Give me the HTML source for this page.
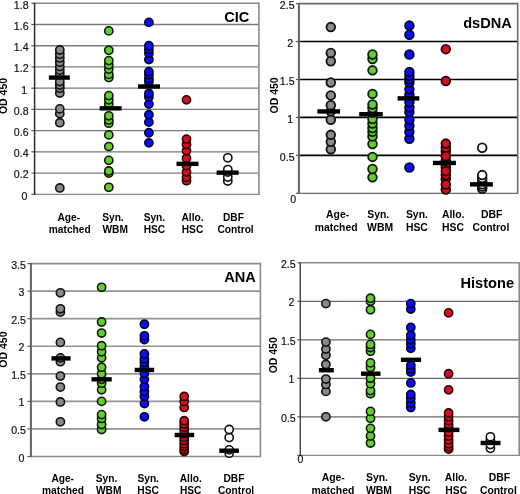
<!DOCTYPE html>
<html><head><meta charset="utf-8"><title>Antibody ELISA</title>
<style>
html,body{margin:0;padding:0;background:#fff;}
body{width:520px;height:494px;overflow:hidden;}
svg{display:block;font-family:"Liberation Sans",sans-serif;will-change:transform;}
.tl{font-size:10.6px;text-anchor:end;fill:#111;stroke:#111;stroke-width:0.18px;}
.ti{font-weight:bold;text-anchor:end;fill:#000;}
.od{font-size:10.5px;font-weight:bold;text-anchor:middle;fill:#000;}
.cl{font-weight:bold;text-anchor:middle;fill:#000;}
</style></head>
<body>
<svg width="520" height="494" viewBox="0 0 520 494">
<rect width="520" height="494" fill="#fff"/>
<g><line x1="34.4" y1="173.08" x2="258.9" y2="173.08" stroke="#7a7a7a" stroke-width="1.3"/>
<line x1="34.4" y1="151.86" x2="258.9" y2="151.86" stroke="#7a7a7a" stroke-width="1.3"/>
<line x1="34.4" y1="130.63" x2="258.9" y2="130.63" stroke="#7a7a7a" stroke-width="1.3"/>
<line x1="34.4" y1="109.41" x2="258.9" y2="109.41" stroke="#7a7a7a" stroke-width="1.3"/>
<line x1="34.4" y1="88.19" x2="258.9" y2="88.19" stroke="#7a7a7a" stroke-width="1.3"/>
<line x1="34.4" y1="66.97" x2="258.9" y2="66.97" stroke="#7a7a7a" stroke-width="1.3"/>
<line x1="34.4" y1="45.74" x2="258.9" y2="45.74" stroke="#7a7a7a" stroke-width="1.3"/>
<line x1="34.4" y1="24.52" x2="258.9" y2="24.52" stroke="#7a7a7a" stroke-width="1.3"/>
<line x1="34.4" y1="3.3" x2="258.9" y2="3.3" stroke="#8a8a8a" stroke-width="1.6"/>
<line x1="34.4" y1="194.3" x2="258.9" y2="194.3" stroke="#8a8a8a" stroke-width="1.3"/>
<line x1="258.9" y1="2.5" x2="258.9" y2="194.9" stroke="#8a8a8a" stroke-width="1.6"/>
<line x1="31.4" y1="194.3" x2="34.4" y2="194.3" stroke="#555" stroke-width="1.2"/>
<line x1="31.4" y1="173.08" x2="34.4" y2="173.08" stroke="#555" stroke-width="1.2"/>
<line x1="31.4" y1="151.86" x2="34.4" y2="151.86" stroke="#555" stroke-width="1.2"/>
<line x1="31.4" y1="130.63" x2="34.4" y2="130.63" stroke="#555" stroke-width="1.2"/>
<line x1="31.4" y1="109.41" x2="34.4" y2="109.41" stroke="#555" stroke-width="1.2"/>
<line x1="31.4" y1="88.19" x2="34.4" y2="88.19" stroke="#555" stroke-width="1.2"/>
<line x1="31.4" y1="66.97" x2="34.4" y2="66.97" stroke="#555" stroke-width="1.2"/>
<line x1="31.4" y1="45.74" x2="34.4" y2="45.74" stroke="#555" stroke-width="1.2"/>
<line x1="31.4" y1="24.52" x2="34.4" y2="24.52" stroke="#555" stroke-width="1.2"/>
<line x1="31.4" y1="3.3" x2="34.4" y2="3.3" stroke="#555" stroke-width="1.2"/>
<line x1="34.6" y1="2.7" x2="34.6" y2="194.9" stroke="#2e2e2e" stroke-width="1.5"/>
<text x="27.4" y="200.1" class="tl">0</text>
<text x="28.6" y="178.48" class="tl">0.2</text>
<text x="28.6" y="157.26" class="tl">0.4</text>
<text x="28.6" y="136.03" class="tl">0.6</text>
<text x="28.6" y="114.81" class="tl">0.8</text>
<text x="27.2" y="93.59" class="tl">1</text>
<text x="28.6" y="72.37" class="tl">1.2</text>
<text x="28.6" y="51.14" class="tl">1.4</text>
<text x="28.6" y="29.92" class="tl">1.6</text>
<text x="28.6" y="8.7" class="tl">1.8</text>
<text x="249.3" y="21.9" class="ti" style="font-size:14.6px">CIC</text>
<text transform="translate(6.9 96) rotate(-90) scale(1.0 0.97)" class="od">OD 450</text>
<text x="68.85" y="221.1" class="cl" style="font-size:10.2px">Age-</text>
<text x="69.75" y="233.1" class="cl" style="font-size:10.2px">matched</text>
<text x="112.95" y="221.1" class="cl" style="font-size:10.2px">Syn.</text>
<text x="115.2" y="233.1" class="cl" style="font-size:10.2px">WBM</text>
<text x="154.4" y="221.1" class="cl" style="font-size:10.2px">Syn.</text>
<text x="154.4" y="233.1" class="cl" style="font-size:10.2px">HSC</text>
<text x="192.5" y="221.1" class="cl" style="font-size:10.2px">Allo.</text>
<text x="192.5" y="233.1" class="cl" style="font-size:10.2px">HSC</text>
<text x="233.4" y="221.1" class="cl" style="font-size:10.2px">DBF</text>
<text x="235.6" y="233.1" class="cl" style="font-size:10.2px">Control</text>
<circle cx="59.8" cy="187.93" r="4.1" fill="#8a8a8a" stroke="#111" stroke-width="1.6"/>
<circle cx="59.8" cy="122.68" r="4.1" fill="#8a8a8a" stroke="#111" stroke-width="1.6"/>
<circle cx="59.8" cy="113.66" r="4.1" fill="#8a8a8a" stroke="#111" stroke-width="1.6"/>
<circle cx="59.8" cy="108.88" r="4.1" fill="#8a8a8a" stroke="#111" stroke-width="1.6"/>
<circle cx="59.8" cy="93.07" r="4.1" fill="#8a8a8a" stroke="#111" stroke-width="1.6"/>
<circle cx="59.8" cy="88.19" r="4.1" fill="#8a8a8a" stroke="#111" stroke-width="1.6"/>
<circle cx="59.8" cy="85.01" r="4.1" fill="#8a8a8a" stroke="#111" stroke-width="1.6"/>
<circle cx="59.8" cy="81.5" r="4.1" fill="#8a8a8a" stroke="#111" stroke-width="1.6"/>
<circle cx="59.8" cy="73.86" r="4.1" fill="#8a8a8a" stroke="#111" stroke-width="1.6"/>
<circle cx="59.8" cy="70.15" r="4.1" fill="#8a8a8a" stroke="#111" stroke-width="1.6"/>
<circle cx="59.8" cy="66.44" r="4.1" fill="#8a8a8a" stroke="#111" stroke-width="1.6"/>
<circle cx="59.8" cy="62.19" r="4.1" fill="#8a8a8a" stroke="#111" stroke-width="1.6"/>
<circle cx="59.8" cy="57.95" r="4.1" fill="#8a8a8a" stroke="#111" stroke-width="1.6"/>
<circle cx="59.8" cy="54.23" r="4.1" fill="#8a8a8a" stroke="#111" stroke-width="1.6"/>
<circle cx="59.8" cy="49.99" r="4.1" fill="#8a8a8a" stroke="#111" stroke-width="1.6"/>
<rect x="48.85" y="75.38" width="21" height="4.4" fill="#000"/>
<circle cx="108.8" cy="187.3" r="4.1" fill="#66cc33" stroke="#0d1a05" stroke-width="1.6"/>
<circle cx="108.8" cy="173.08" r="4.1" fill="#66cc33" stroke="#0d1a05" stroke-width="1.6"/>
<circle cx="108.8" cy="170.96" r="4.1" fill="#66cc33" stroke="#0d1a05" stroke-width="1.6"/>
<circle cx="108.8" cy="160.34" r="4.1" fill="#66cc33" stroke="#0d1a05" stroke-width="1.6"/>
<circle cx="108.8" cy="146.55" r="4.1" fill="#66cc33" stroke="#0d1a05" stroke-width="1.6"/>
<circle cx="108.8" cy="134.88" r="4.1" fill="#66cc33" stroke="#0d1a05" stroke-width="1.6"/>
<circle cx="108.8" cy="123.21" r="4.1" fill="#66cc33" stroke="#0d1a05" stroke-width="1.6"/>
<circle cx="108.8" cy="120.02" r="4.1" fill="#66cc33" stroke="#0d1a05" stroke-width="1.6"/>
<circle cx="108.8" cy="115.78" r="4.1" fill="#66cc33" stroke="#0d1a05" stroke-width="1.6"/>
<circle cx="108.8" cy="104.11" r="4.1" fill="#66cc33" stroke="#0d1a05" stroke-width="1.6"/>
<circle cx="108.8" cy="99.86" r="4.1" fill="#66cc33" stroke="#0d1a05" stroke-width="1.6"/>
<circle cx="108.8" cy="95.62" r="4.1" fill="#66cc33" stroke="#0d1a05" stroke-width="1.6"/>
<circle cx="108.8" cy="77.58" r="4.1" fill="#66cc33" stroke="#0d1a05" stroke-width="1.6"/>
<circle cx="108.8" cy="74.39" r="4.1" fill="#66cc33" stroke="#0d1a05" stroke-width="1.6"/>
<circle cx="108.8" cy="69.09" r="4.1" fill="#66cc33" stroke="#0d1a05" stroke-width="1.6"/>
<circle cx="108.8" cy="64.84" r="4.1" fill="#66cc33" stroke="#0d1a05" stroke-width="1.6"/>
<circle cx="108.8" cy="60.6" r="4.1" fill="#66cc33" stroke="#0d1a05" stroke-width="1.6"/>
<circle cx="108.8" cy="50.31" r="4.1" fill="#66cc33" stroke="#0d1a05" stroke-width="1.6"/>
<circle cx="108.8" cy="30.89" r="4.1" fill="#66cc33" stroke="#0d1a05" stroke-width="1.6"/>
<rect x="99.65" y="106.15" width="22" height="4.4" fill="#000"/>
<circle cx="148.9" cy="142.84" r="4.1" fill="#0c0cf5" stroke="#05052a" stroke-width="1.6"/>
<circle cx="148.9" cy="132.76" r="4.1" fill="#0c0cf5" stroke="#05052a" stroke-width="1.6"/>
<circle cx="148.9" cy="122.14" r="4.1" fill="#0c0cf5" stroke="#05052a" stroke-width="1.6"/>
<circle cx="148.9" cy="114.72" r="4.1" fill="#0c0cf5" stroke="#05052a" stroke-width="1.6"/>
<circle cx="148.9" cy="104.11" r="4.1" fill="#0c0cf5" stroke="#05052a" stroke-width="1.6"/>
<circle cx="148.9" cy="97" r="4.1" fill="#0c0cf5" stroke="#05052a" stroke-width="1.6"/>
<circle cx="148.9" cy="93.49" r="4.1" fill="#0c0cf5" stroke="#05052a" stroke-width="1.6"/>
<circle cx="148.9" cy="81.82" r="4.1" fill="#0c0cf5" stroke="#05052a" stroke-width="1.6"/>
<circle cx="148.9" cy="78.64" r="4.1" fill="#0c0cf5" stroke="#05052a" stroke-width="1.6"/>
<circle cx="148.9" cy="74.82" r="4.1" fill="#0c0cf5" stroke="#05052a" stroke-width="1.6"/>
<circle cx="148.9" cy="71.74" r="4.1" fill="#0c0cf5" stroke="#05052a" stroke-width="1.6"/>
<circle cx="148.9" cy="59.54" r="4.1" fill="#0c0cf5" stroke="#05052a" stroke-width="1.6"/>
<circle cx="148.9" cy="53.17" r="4.1" fill="#0c0cf5" stroke="#05052a" stroke-width="1.6"/>
<circle cx="148.9" cy="49.46" r="4.1" fill="#0c0cf5" stroke="#05052a" stroke-width="1.6"/>
<circle cx="148.9" cy="45.74" r="4.1" fill="#0c0cf5" stroke="#05052a" stroke-width="1.6"/>
<circle cx="148.9" cy="22.4" r="4.1" fill="#0c0cf5" stroke="#05052a" stroke-width="1.6"/>
<rect x="138" y="84.29" width="22" height="4.4" fill="#000"/>
<circle cx="186.5" cy="180.72" r="4.1" fill="#d41020" stroke="#2a0505" stroke-width="1.6"/>
<circle cx="186.5" cy="177.32" r="4.1" fill="#d41020" stroke="#2a0505" stroke-width="1.6"/>
<circle cx="186.5" cy="172.02" r="4.1" fill="#d41020" stroke="#2a0505" stroke-width="1.6"/>
<circle cx="186.5" cy="165.65" r="4.1" fill="#d41020" stroke="#2a0505" stroke-width="1.6"/>
<circle cx="186.5" cy="158.22" r="4.1" fill="#d41020" stroke="#2a0505" stroke-width="1.6"/>
<circle cx="186.5" cy="150.79" r="4.1" fill="#d41020" stroke="#2a0505" stroke-width="1.6"/>
<circle cx="186.5" cy="144.43" r="4.1" fill="#d41020" stroke="#2a0505" stroke-width="1.6"/>
<circle cx="186.5" cy="139.12" r="4.1" fill="#d41020" stroke="#2a0505" stroke-width="1.6"/>
<circle cx="186.5" cy="99.86" r="4.1" fill="#d41020" stroke="#2a0505" stroke-width="1.6"/>
<rect x="176.5" y="161.65" width="22" height="4.4" fill="#000"/>
<circle cx="227.8" cy="181.04" r="4.1" fill="#ffffff" stroke="#111" stroke-width="1.6"/>
<circle cx="227.8" cy="177" r="4.1" fill="#ffffff" stroke="#111" stroke-width="1.6"/>
<circle cx="227.8" cy="172.02" r="4.1" fill="#ffffff" stroke="#111" stroke-width="1.6"/>
<circle cx="227.8" cy="169.58" r="4.1" fill="#ffffff" stroke="#111" stroke-width="1.6"/>
<circle cx="227.8" cy="157.8" r="4.1" fill="#ffffff" stroke="#111" stroke-width="1.6"/>
<rect x="216.6" y="170.45" width="22" height="4.4" fill="#000"/></g>
<g><line x1="298.9" y1="155.36" x2="517.7" y2="155.36" stroke="#000" stroke-width="1.6"/>
<line x1="298.9" y1="117.42" x2="517.7" y2="117.42" stroke="#000" stroke-width="1.6"/>
<line x1="298.9" y1="79.48" x2="517.7" y2="79.48" stroke="#000" stroke-width="1.6"/>
<line x1="298.9" y1="41.54" x2="517.7" y2="41.54" stroke="#000" stroke-width="1.6"/>
<line x1="298.9" y1="3.6" x2="517.7" y2="3.6" stroke="#6a6a6a" stroke-width="1.6"/>
<line x1="298.9" y1="193.3" x2="517.7" y2="193.3" stroke="#6a6a6a" stroke-width="1.3"/>
<line x1="517.7" y1="2.8" x2="517.7" y2="193.9" stroke="#6a6a6a" stroke-width="1.6"/>
<line x1="295.9" y1="193.3" x2="298.9" y2="193.3" stroke="#555" stroke-width="1.2"/>
<line x1="295.9" y1="155.36" x2="298.9" y2="155.36" stroke="#555" stroke-width="1.2"/>
<line x1="295.9" y1="117.42" x2="298.9" y2="117.42" stroke="#555" stroke-width="1.2"/>
<line x1="295.9" y1="79.48" x2="298.9" y2="79.48" stroke="#555" stroke-width="1.2"/>
<line x1="295.9" y1="41.54" x2="298.9" y2="41.54" stroke="#555" stroke-width="1.2"/>
<line x1="295.9" y1="3.6" x2="298.9" y2="3.6" stroke="#555" stroke-width="1.2"/>
<line x1="298.9" y1="3" x2="298.9" y2="193.9" stroke="#636363" stroke-width="2.0"/>
<text x="296.2" y="203.1" class="tl">0</text>
<text x="294.6" y="160.76" class="tl">0.5</text>
<text x="293.2" y="122.82" class="tl">1</text>
<text x="294.6" y="84.88" class="tl">1.5</text>
<text x="293.2" y="46.94" class="tl">2</text>
<text x="294.6" y="9" class="tl">2.5</text>
<text x="511.8" y="27.6" class="ti" style="font-size:14.6px">dsDNA</text>
<text transform="translate(278 95.4) rotate(-90) scale(1.0 0.97)" class="od">OD 450</text>
<text x="337.6" y="217.7" class="cl" style="font-size:10.4px">Age-</text>
<text x="336.2" y="230.7" class="cl" style="font-size:10.4px">matched</text>
<text x="378.3" y="217.7" class="cl" style="font-size:10.4px">Syn.</text>
<text x="380.1" y="230.7" class="cl" style="font-size:10.4px">WBM</text>
<text x="416.9" y="217.7" class="cl" style="font-size:10.4px">Syn.</text>
<text x="416.9" y="230.7" class="cl" style="font-size:10.4px">HSC</text>
<text x="453.2" y="217.7" class="cl" style="font-size:10.4px">Allo.</text>
<text x="453" y="230.7" class="cl" style="font-size:10.4px">HSC</text>
<text x="491.75" y="217.7" class="cl" style="font-size:10.4px">DBF</text>
<text x="490.9" y="230.7" class="cl" style="font-size:10.4px">Control</text>
<circle cx="330.8" cy="149.29" r="4.35" fill="#8a8a8a" stroke="#111" stroke-width="1.8"/>
<circle cx="330.8" cy="141.7" r="4.35" fill="#8a8a8a" stroke="#111" stroke-width="1.8"/>
<circle cx="330.8" cy="134.87" r="4.35" fill="#8a8a8a" stroke="#111" stroke-width="1.8"/>
<circle cx="330.8" cy="119.7" r="4.35" fill="#8a8a8a" stroke="#111" stroke-width="1.8"/>
<circle cx="330.8" cy="111.35" r="4.35" fill="#8a8a8a" stroke="#111" stroke-width="1.8"/>
<circle cx="330.8" cy="105.28" r="4.35" fill="#8a8a8a" stroke="#111" stroke-width="1.8"/>
<circle cx="330.8" cy="95.41" r="4.35" fill="#8a8a8a" stroke="#111" stroke-width="1.8"/>
<circle cx="330.8" cy="82.52" r="4.35" fill="#8a8a8a" stroke="#111" stroke-width="1.8"/>
<circle cx="330.8" cy="61.27" r="4.35" fill="#8a8a8a" stroke="#111" stroke-width="1.8"/>
<circle cx="330.8" cy="52.92" r="4.35" fill="#8a8a8a" stroke="#111" stroke-width="1.8"/>
<circle cx="330.8" cy="27.12" r="4.35" fill="#8a8a8a" stroke="#111" stroke-width="1.8"/>
<rect x="317.4" y="109.23" width="22.7" height="4.4" fill="#000"/>
<circle cx="372.5" cy="177.37" r="4.35" fill="#66cc33" stroke="#0d1a05" stroke-width="1.8"/>
<circle cx="372.5" cy="169.02" r="4.35" fill="#66cc33" stroke="#0d1a05" stroke-width="1.8"/>
<circle cx="372.5" cy="156.88" r="4.35" fill="#66cc33" stroke="#0d1a05" stroke-width="1.8"/>
<circle cx="372.5" cy="143.98" r="4.35" fill="#66cc33" stroke="#0d1a05" stroke-width="1.8"/>
<circle cx="372.5" cy="136.39" r="4.35" fill="#66cc33" stroke="#0d1a05" stroke-width="1.8"/>
<circle cx="372.5" cy="131.84" r="4.35" fill="#66cc33" stroke="#0d1a05" stroke-width="1.8"/>
<circle cx="372.5" cy="128.04" r="4.35" fill="#66cc33" stroke="#0d1a05" stroke-width="1.8"/>
<circle cx="372.5" cy="123.49" r="4.35" fill="#66cc33" stroke="#0d1a05" stroke-width="1.8"/>
<circle cx="372.5" cy="118.94" r="4.35" fill="#66cc33" stroke="#0d1a05" stroke-width="1.8"/>
<circle cx="372.5" cy="112.87" r="4.35" fill="#66cc33" stroke="#0d1a05" stroke-width="1.8"/>
<circle cx="372.5" cy="108.31" r="4.35" fill="#66cc33" stroke="#0d1a05" stroke-width="1.8"/>
<circle cx="372.5" cy="104.52" r="4.35" fill="#66cc33" stroke="#0d1a05" stroke-width="1.8"/>
<circle cx="372.5" cy="93.9" r="4.35" fill="#66cc33" stroke="#0d1a05" stroke-width="1.8"/>
<circle cx="372.5" cy="70.37" r="4.35" fill="#66cc33" stroke="#0d1a05" stroke-width="1.8"/>
<circle cx="372.5" cy="58.99" r="4.35" fill="#66cc33" stroke="#0d1a05" stroke-width="1.8"/>
<circle cx="372.5" cy="54.44" r="4.35" fill="#66cc33" stroke="#0d1a05" stroke-width="1.8"/>
<rect x="359.2" y="112.03" width="23.5" height="4.4" fill="#000"/>
<circle cx="409.4" cy="167.5" r="4.35" fill="#0c0cf5" stroke="#05052a" stroke-width="1.8"/>
<circle cx="409.4" cy="138.67" r="4.35" fill="#0c0cf5" stroke="#05052a" stroke-width="1.8"/>
<circle cx="409.4" cy="131.84" r="4.35" fill="#0c0cf5" stroke="#05052a" stroke-width="1.8"/>
<circle cx="409.4" cy="125.77" r="4.35" fill="#0c0cf5" stroke="#05052a" stroke-width="1.8"/>
<circle cx="409.4" cy="119.7" r="4.35" fill="#0c0cf5" stroke="#05052a" stroke-width="1.8"/>
<circle cx="409.4" cy="112.11" r="4.35" fill="#0c0cf5" stroke="#05052a" stroke-width="1.8"/>
<circle cx="409.4" cy="107.56" r="4.35" fill="#0c0cf5" stroke="#05052a" stroke-width="1.8"/>
<circle cx="409.4" cy="102.24" r="4.35" fill="#0c0cf5" stroke="#05052a" stroke-width="1.8"/>
<circle cx="409.4" cy="94.66" r="4.35" fill="#0c0cf5" stroke="#05052a" stroke-width="1.8"/>
<circle cx="409.4" cy="89.34" r="4.35" fill="#0c0cf5" stroke="#05052a" stroke-width="1.8"/>
<circle cx="409.4" cy="82.52" r="4.35" fill="#0c0cf5" stroke="#05052a" stroke-width="1.8"/>
<circle cx="409.4" cy="79.48" r="4.35" fill="#0c0cf5" stroke="#05052a" stroke-width="1.8"/>
<circle cx="409.4" cy="75.69" r="4.35" fill="#0c0cf5" stroke="#05052a" stroke-width="1.8"/>
<circle cx="409.4" cy="71.89" r="4.35" fill="#0c0cf5" stroke="#05052a" stroke-width="1.8"/>
<circle cx="409.4" cy="54.44" r="4.35" fill="#0c0cf5" stroke="#05052a" stroke-width="1.8"/>
<circle cx="409.4" cy="34.71" r="4.35" fill="#0c0cf5" stroke="#05052a" stroke-width="1.8"/>
<circle cx="409.4" cy="25.61" r="4.35" fill="#0c0cf5" stroke="#05052a" stroke-width="1.8"/>
<rect x="397.6" y="96.17" width="21.7" height="4.4" fill="#000"/>
<circle cx="445.8" cy="189.51" r="4.35" fill="#d41020" stroke="#2a0505" stroke-width="1.8"/>
<circle cx="445.8" cy="178.88" r="4.35" fill="#d41020" stroke="#2a0505" stroke-width="1.8"/>
<circle cx="445.8" cy="175.09" r="4.35" fill="#d41020" stroke="#2a0505" stroke-width="1.8"/>
<circle cx="445.8" cy="167.5" r="4.35" fill="#d41020" stroke="#2a0505" stroke-width="1.8"/>
<circle cx="445.8" cy="164.47" r="4.35" fill="#d41020" stroke="#2a0505" stroke-width="1.8"/>
<circle cx="445.8" cy="160.67" r="4.35" fill="#d41020" stroke="#2a0505" stroke-width="1.8"/>
<circle cx="445.8" cy="151.57" r="4.35" fill="#d41020" stroke="#2a0505" stroke-width="1.8"/>
<circle cx="445.8" cy="147.77" r="4.35" fill="#d41020" stroke="#2a0505" stroke-width="1.8"/>
<circle cx="445.8" cy="49.13" r="4.35" fill="#d41020" stroke="#2a0505" stroke-width="1.8"/>
<circle cx="445.8" cy="81" r="4.35" fill="#d41020" stroke="#2a0505" stroke-width="1.8"/>
<circle cx="445.8" cy="184.5" r="4.35" fill="#d41020" stroke="#2a0505" stroke-width="1.8"/>
<circle cx="445.8" cy="171.14" r="4.35" fill="#d41020" stroke="#2a0505" stroke-width="1.8"/>
<circle cx="445.8" cy="156.27" r="4.35" fill="#d41020" stroke="#2a0505" stroke-width="1.8"/>
<circle cx="445.8" cy="143.6" r="4.35" fill="#d41020" stroke="#2a0505" stroke-width="1.8"/>
<rect x="432.9" y="160.75" width="23" height="4.4" fill="#000"/>
<circle cx="482.2" cy="188.75" r="4.35" fill="#ffffff" stroke="#111" stroke-width="1.8"/>
<circle cx="482.2" cy="186.47" r="4.35" fill="#ffffff" stroke="#111" stroke-width="1.8"/>
<circle cx="482.2" cy="184.19" r="4.35" fill="#ffffff" stroke="#111" stroke-width="1.8"/>
<circle cx="482.2" cy="181.16" r="4.35" fill="#ffffff" stroke="#111" stroke-width="1.8"/>
<circle cx="482.2" cy="178.12" r="4.35" fill="#ffffff" stroke="#111" stroke-width="1.8"/>
<circle cx="482.2" cy="175.09" r="4.35" fill="#ffffff" stroke="#111" stroke-width="1.8"/>
<circle cx="482.2" cy="147.77" r="4.35" fill="#ffffff" stroke="#111" stroke-width="1.8"/>
<rect x="470" y="182.15" width="22.9" height="4.4" fill="#000"/></g>
<g><line x1="30.5" y1="428.94" x2="260.4" y2="428.94" stroke="#939393" stroke-width="1.7"/>
<line x1="30.5" y1="401.39" x2="260.4" y2="401.39" stroke="#939393" stroke-width="1.7"/>
<line x1="30.5" y1="373.83" x2="260.4" y2="373.83" stroke="#939393" stroke-width="1.7"/>
<line x1="30.5" y1="346.27" x2="260.4" y2="346.27" stroke="#939393" stroke-width="1.7"/>
<line x1="30.5" y1="318.71" x2="260.4" y2="318.71" stroke="#939393" stroke-width="1.7"/>
<line x1="30.5" y1="291.16" x2="260.4" y2="291.16" stroke="#939393" stroke-width="1.7"/>
<line x1="30.5" y1="263.6" x2="260.4" y2="263.6" stroke="#8a8a8a" stroke-width="1.6"/>
<line x1="30.5" y1="456.5" x2="260.4" y2="456.5" stroke="#8a8a8a" stroke-width="1.3"/>
<line x1="260.4" y1="262.8" x2="260.4" y2="457.1" stroke="#8a8a8a" stroke-width="1.6"/>
<line x1="27.5" y1="456.5" x2="30.5" y2="456.5" stroke="#555" stroke-width="1.2"/>
<line x1="27.5" y1="428.94" x2="30.5" y2="428.94" stroke="#555" stroke-width="1.2"/>
<line x1="27.5" y1="401.39" x2="30.5" y2="401.39" stroke="#555" stroke-width="1.2"/>
<line x1="27.5" y1="373.83" x2="30.5" y2="373.83" stroke="#555" stroke-width="1.2"/>
<line x1="27.5" y1="346.27" x2="30.5" y2="346.27" stroke="#555" stroke-width="1.2"/>
<line x1="27.5" y1="318.71" x2="30.5" y2="318.71" stroke="#555" stroke-width="1.2"/>
<line x1="27.5" y1="291.16" x2="30.5" y2="291.16" stroke="#555" stroke-width="1.2"/>
<line x1="27.5" y1="263.6" x2="30.5" y2="263.6" stroke="#555" stroke-width="1.2"/>
<line x1="30.9" y1="263" x2="30.9" y2="457.1" stroke="#636363" stroke-width="2.0"/>
<text x="24.5" y="461.9" class="tl">0</text>
<text x="25.9" y="433.94" class="tl">0.5</text>
<text x="24.5" y="406.39" class="tl">1</text>
<text x="25.9" y="378.83" class="tl">1.5</text>
<text x="24.5" y="351.27" class="tl">2</text>
<text x="25.9" y="323.71" class="tl">2.5</text>
<text x="24.5" y="296.16" class="tl">3</text>
<text x="25.9" y="268.6" class="tl">3.5</text>
<text x="255.8" y="282.3" class="ti" style="font-size:14.6px">ANA</text>
<text transform="translate(6.9 349.6) rotate(-90) scale(1.0 0.97)" class="od">OD 450</text>
<text x="62.7" y="481.5" class="cl" style="font-size:10.2px">Age-</text>
<text x="63" y="494.1" class="cl" style="font-size:10.2px">matched</text>
<text x="106.6" y="481.5" class="cl" style="font-size:10.2px">Syn.</text>
<text x="108.7" y="494.1" class="cl" style="font-size:10.2px">WBM</text>
<text x="148.2" y="481.5" class="cl" style="font-size:10.2px">Syn.</text>
<text x="148.1" y="494.1" class="cl" style="font-size:10.2px">HSC</text>
<text x="190.75" y="481.5" class="cl" style="font-size:10.2px">Allo.</text>
<text x="190.7" y="494.1" class="cl" style="font-size:10.2px">HSC</text>
<text x="233.9" y="481.5" class="cl" style="font-size:10.2px">DBF</text>
<text x="236.1" y="494.1" class="cl" style="font-size:10.2px">Control</text>
<circle cx="60.4" cy="421.78" r="4.1" fill="#8a8a8a" stroke="#111" stroke-width="1.6"/>
<circle cx="60.4" cy="401.94" r="4.1" fill="#8a8a8a" stroke="#111" stroke-width="1.6"/>
<circle cx="60.4" cy="387.06" r="4.1" fill="#8a8a8a" stroke="#111" stroke-width="1.6"/>
<circle cx="60.4" cy="376.03" r="4.1" fill="#8a8a8a" stroke="#111" stroke-width="1.6"/>
<circle cx="60.4" cy="361.7" r="4.1" fill="#8a8a8a" stroke="#111" stroke-width="1.6"/>
<circle cx="60.4" cy="357.85" r="4.1" fill="#8a8a8a" stroke="#111" stroke-width="1.6"/>
<circle cx="60.4" cy="342.41" r="4.1" fill="#8a8a8a" stroke="#111" stroke-width="1.6"/>
<circle cx="60.4" cy="312.1" r="4.1" fill="#8a8a8a" stroke="#111" stroke-width="1.6"/>
<circle cx="60.4" cy="308.79" r="4.1" fill="#8a8a8a" stroke="#111" stroke-width="1.6"/>
<circle cx="60.4" cy="292.81" r="4.1" fill="#8a8a8a" stroke="#111" stroke-width="1.6"/>
<rect x="51.45" y="356.2" width="19.1" height="4.4" fill="#000"/>
<circle cx="101.6" cy="429.49" r="4.1" fill="#66cc33" stroke="#0d1a05" stroke-width="1.6"/>
<circle cx="101.6" cy="424.53" r="4.1" fill="#66cc33" stroke="#0d1a05" stroke-width="1.6"/>
<circle cx="101.6" cy="418.47" r="4.1" fill="#66cc33" stroke="#0d1a05" stroke-width="1.6"/>
<circle cx="101.6" cy="414.61" r="4.1" fill="#66cc33" stroke="#0d1a05" stroke-width="1.6"/>
<circle cx="101.6" cy="401.39" r="4.1" fill="#66cc33" stroke="#0d1a05" stroke-width="1.6"/>
<circle cx="101.6" cy="389.81" r="4.1" fill="#66cc33" stroke="#0d1a05" stroke-width="1.6"/>
<circle cx="101.6" cy="383.2" r="4.1" fill="#66cc33" stroke="#0d1a05" stroke-width="1.6"/>
<circle cx="101.6" cy="379.34" r="4.1" fill="#66cc33" stroke="#0d1a05" stroke-width="1.6"/>
<circle cx="101.6" cy="373.83" r="4.1" fill="#66cc33" stroke="#0d1a05" stroke-width="1.6"/>
<circle cx="101.6" cy="367.21" r="4.1" fill="#66cc33" stroke="#0d1a05" stroke-width="1.6"/>
<circle cx="101.6" cy="357.85" r="4.1" fill="#66cc33" stroke="#0d1a05" stroke-width="1.6"/>
<circle cx="101.6" cy="351.78" r="4.1" fill="#66cc33" stroke="#0d1a05" stroke-width="1.6"/>
<circle cx="101.6" cy="345.72" r="4.1" fill="#66cc33" stroke="#0d1a05" stroke-width="1.6"/>
<circle cx="101.6" cy="333.04" r="4.1" fill="#66cc33" stroke="#0d1a05" stroke-width="1.6"/>
<circle cx="101.6" cy="322.02" r="4.1" fill="#66cc33" stroke="#0d1a05" stroke-width="1.6"/>
<circle cx="101.6" cy="287.3" r="4.1" fill="#66cc33" stroke="#0d1a05" stroke-width="1.6"/>
<rect x="91.5" y="377.14" width="20.2" height="4.4" fill="#000"/>
<circle cx="144.4" cy="416.82" r="4.1" fill="#0c0cf5" stroke="#05052a" stroke-width="1.6"/>
<circle cx="144.4" cy="403.59" r="4.1" fill="#0c0cf5" stroke="#05052a" stroke-width="1.6"/>
<circle cx="144.4" cy="396.43" r="4.1" fill="#0c0cf5" stroke="#05052a" stroke-width="1.6"/>
<circle cx="144.4" cy="391.47" r="4.1" fill="#0c0cf5" stroke="#05052a" stroke-width="1.6"/>
<circle cx="144.4" cy="386.5" r="4.1" fill="#0c0cf5" stroke="#05052a" stroke-width="1.6"/>
<circle cx="144.4" cy="379.34" r="4.1" fill="#0c0cf5" stroke="#05052a" stroke-width="1.6"/>
<circle cx="144.4" cy="373.28" r="4.1" fill="#0c0cf5" stroke="#05052a" stroke-width="1.6"/>
<circle cx="144.4" cy="366.66" r="4.1" fill="#0c0cf5" stroke="#05052a" stroke-width="1.6"/>
<circle cx="144.4" cy="362.25" r="4.1" fill="#0c0cf5" stroke="#05052a" stroke-width="1.6"/>
<circle cx="144.4" cy="358.95" r="4.1" fill="#0c0cf5" stroke="#05052a" stroke-width="1.6"/>
<circle cx="144.4" cy="353.99" r="4.1" fill="#0c0cf5" stroke="#05052a" stroke-width="1.6"/>
<circle cx="144.4" cy="339.66" r="4.1" fill="#0c0cf5" stroke="#05052a" stroke-width="1.6"/>
<circle cx="144.4" cy="335.8" r="4.1" fill="#0c0cf5" stroke="#05052a" stroke-width="1.6"/>
<circle cx="144.4" cy="324.23" r="4.1" fill="#0c0cf5" stroke="#05052a" stroke-width="1.6"/>
<rect x="134.7" y="367.77" width="19.5" height="4.4" fill="#000"/>
<circle cx="184.2" cy="451.54" r="4.1" fill="#d41020" stroke="#2a0505" stroke-width="1.6"/>
<circle cx="184.2" cy="449.34" r="4.1" fill="#d41020" stroke="#2a0505" stroke-width="1.6"/>
<circle cx="184.2" cy="446.58" r="4.1" fill="#d41020" stroke="#2a0505" stroke-width="1.6"/>
<circle cx="184.2" cy="443.82" r="4.1" fill="#d41020" stroke="#2a0505" stroke-width="1.6"/>
<circle cx="184.2" cy="440.52" r="4.1" fill="#d41020" stroke="#2a0505" stroke-width="1.6"/>
<circle cx="184.2" cy="437.21" r="4.1" fill="#d41020" stroke="#2a0505" stroke-width="1.6"/>
<circle cx="184.2" cy="433.9" r="4.1" fill="#d41020" stroke="#2a0505" stroke-width="1.6"/>
<circle cx="184.2" cy="430.6" r="4.1" fill="#d41020" stroke="#2a0505" stroke-width="1.6"/>
<circle cx="184.2" cy="427.29" r="4.1" fill="#d41020" stroke="#2a0505" stroke-width="1.6"/>
<circle cx="184.2" cy="423.98" r="4.1" fill="#d41020" stroke="#2a0505" stroke-width="1.6"/>
<circle cx="184.2" cy="420.68" r="4.1" fill="#d41020" stroke="#2a0505" stroke-width="1.6"/>
<circle cx="184.2" cy="407.45" r="4.1" fill="#d41020" stroke="#2a0505" stroke-width="1.6"/>
<circle cx="184.2" cy="401.39" r="4.1" fill="#d41020" stroke="#2a0505" stroke-width="1.6"/>
<circle cx="184.2" cy="396.43" r="4.1" fill="#d41020" stroke="#2a0505" stroke-width="1.6"/>
<rect x="174.7" y="432.81" width="19.5" height="4.4" fill="#000"/>
<circle cx="229.2" cy="453.19" r="4.1" fill="#ffffff" stroke="#111" stroke-width="1.6"/>
<circle cx="229.2" cy="449.89" r="4.1" fill="#ffffff" stroke="#111" stroke-width="1.6"/>
<circle cx="229.2" cy="437.49" r="4.1" fill="#ffffff" stroke="#111" stroke-width="1.6"/>
<circle cx="229.2" cy="429.49" r="4.1" fill="#ffffff" stroke="#111" stroke-width="1.6"/>
<rect x="219.3" y="448.51" width="19.6" height="4.4" fill="#000"/></g>
<g><line x1="300.4" y1="416.8" x2="519.2" y2="416.8" stroke="#686868" stroke-width="1.3"/>
<line x1="300.4" y1="378.3" x2="519.2" y2="378.3" stroke="#686868" stroke-width="1.3"/>
<line x1="300.4" y1="339.8" x2="519.2" y2="339.8" stroke="#686868" stroke-width="1.3"/>
<line x1="300.4" y1="301.3" x2="519.2" y2="301.3" stroke="#686868" stroke-width="1.3"/>
<line x1="300.4" y1="262.8" x2="519.2" y2="262.8" stroke="#8a8a8a" stroke-width="1.6"/>
<line x1="300.4" y1="455.3" x2="519.2" y2="455.3" stroke="#8a8a8a" stroke-width="1.3"/>
<line x1="519.2" y1="262" x2="519.2" y2="455.9" stroke="#8a8a8a" stroke-width="1.6"/>
<line x1="297.4" y1="455.3" x2="300.4" y2="455.3" stroke="#555" stroke-width="1.2"/>
<line x1="297.4" y1="416.8" x2="300.4" y2="416.8" stroke="#555" stroke-width="1.2"/>
<line x1="297.4" y1="378.3" x2="300.4" y2="378.3" stroke="#555" stroke-width="1.2"/>
<line x1="297.4" y1="339.8" x2="300.4" y2="339.8" stroke="#555" stroke-width="1.2"/>
<line x1="297.4" y1="301.3" x2="300.4" y2="301.3" stroke="#555" stroke-width="1.2"/>
<line x1="297.4" y1="262.8" x2="300.4" y2="262.8" stroke="#555" stroke-width="1.2"/>
<line x1="300.3" y1="262.2" x2="300.3" y2="455.9" stroke="#444" stroke-width="1.4"/>
<text x="303.4" y="463.3" class="tl">0</text>
<text x="295.7" y="421.8" class="tl">0.5</text>
<text x="294.3" y="383.3" class="tl">1</text>
<text x="295.7" y="344.8" class="tl">1.5</text>
<text x="294.3" y="306.3" class="tl">2</text>
<text x="295.7" y="267.8" class="tl">2.5</text>
<text x="514" y="288" class="ti" style="font-size:14.6px">Histone</text>
<text transform="translate(276.9 355.3) rotate(-90) scale(1.0 0.97)" class="od">OD 450</text>
<text x="333.2" y="480.7" class="cl" style="font-size:10.4px">Age-</text>
<text x="332.9" y="494" class="cl" style="font-size:10.4px">matched</text>
<text x="377" y="480.7" class="cl" style="font-size:10.4px">Syn.</text>
<text x="379" y="494" class="cl" style="font-size:10.4px">WBM</text>
<text x="419.65" y="480.7" class="cl" style="font-size:10.4px">Syn.</text>
<text x="419.65" y="494" class="cl" style="font-size:10.4px">HSC</text>
<text x="456" y="480.7" class="cl" style="font-size:10.4px">Allo.</text>
<text x="456.2" y="494" class="cl" style="font-size:10.4px">HSC</text>
<text x="499.5" y="480.7" class="cl" style="font-size:10.4px">DBF</text>
<text x="498.4" y="494" class="cl" style="font-size:10.4px">Control</text>
<circle cx="325.9" cy="416.8" r="4.1" fill="#8a8a8a" stroke="#111" stroke-width="1.6"/>
<circle cx="325.9" cy="391.39" r="4.1" fill="#8a8a8a" stroke="#111" stroke-width="1.6"/>
<circle cx="325.9" cy="384.46" r="4.1" fill="#8a8a8a" stroke="#111" stroke-width="1.6"/>
<circle cx="325.9" cy="379.07" r="4.1" fill="#8a8a8a" stroke="#111" stroke-width="1.6"/>
<circle cx="325.9" cy="364.44" r="4.1" fill="#8a8a8a" stroke="#111" stroke-width="1.6"/>
<circle cx="325.9" cy="355.2" r="4.1" fill="#8a8a8a" stroke="#111" stroke-width="1.6"/>
<circle cx="325.9" cy="349.04" r="4.1" fill="#8a8a8a" stroke="#111" stroke-width="1.6"/>
<circle cx="325.9" cy="342.11" r="4.1" fill="#8a8a8a" stroke="#111" stroke-width="1.6"/>
<circle cx="325.9" cy="303.61" r="4.1" fill="#8a8a8a" stroke="#111" stroke-width="1.6"/>
<rect x="318.9" y="368.02" width="14.9" height="4.4" fill="#000"/>
<circle cx="370.5" cy="442.98" r="4.1" fill="#66cc33" stroke="#0d1a05" stroke-width="1.6"/>
<circle cx="370.5" cy="436.05" r="4.1" fill="#66cc33" stroke="#0d1a05" stroke-width="1.6"/>
<circle cx="370.5" cy="428.35" r="4.1" fill="#66cc33" stroke="#0d1a05" stroke-width="1.6"/>
<circle cx="370.5" cy="418.34" r="4.1" fill="#66cc33" stroke="#0d1a05" stroke-width="1.6"/>
<circle cx="370.5" cy="411.41" r="4.1" fill="#66cc33" stroke="#0d1a05" stroke-width="1.6"/>
<circle cx="370.5" cy="393.7" r="4.1" fill="#66cc33" stroke="#0d1a05" stroke-width="1.6"/>
<circle cx="370.5" cy="390.62" r="4.1" fill="#66cc33" stroke="#0d1a05" stroke-width="1.6"/>
<circle cx="370.5" cy="383.69" r="4.1" fill="#66cc33" stroke="#0d1a05" stroke-width="1.6"/>
<circle cx="370.5" cy="378.3" r="4.1" fill="#66cc33" stroke="#0d1a05" stroke-width="1.6"/>
<circle cx="370.5" cy="367.52" r="4.1" fill="#66cc33" stroke="#0d1a05" stroke-width="1.6"/>
<circle cx="370.5" cy="362.9" r="4.1" fill="#66cc33" stroke="#0d1a05" stroke-width="1.6"/>
<circle cx="370.5" cy="351.35" r="4.1" fill="#66cc33" stroke="#0d1a05" stroke-width="1.6"/>
<circle cx="370.5" cy="347.5" r="4.1" fill="#66cc33" stroke="#0d1a05" stroke-width="1.6"/>
<circle cx="370.5" cy="344.42" r="4.1" fill="#66cc33" stroke="#0d1a05" stroke-width="1.6"/>
<circle cx="370.5" cy="334.41" r="4.1" fill="#66cc33" stroke="#0d1a05" stroke-width="1.6"/>
<circle cx="370.5" cy="309.77" r="4.1" fill="#66cc33" stroke="#0d1a05" stroke-width="1.6"/>
<circle cx="370.5" cy="301.3" r="4.1" fill="#66cc33" stroke="#0d1a05" stroke-width="1.6"/>
<circle cx="370.5" cy="298.22" r="4.1" fill="#66cc33" stroke="#0d1a05" stroke-width="1.6"/>
<rect x="361" y="371.48" width="19.5" height="4.4" fill="#000"/>
<circle cx="410.8" cy="407.56" r="4.1" fill="#0c0cf5" stroke="#05052a" stroke-width="1.6"/>
<circle cx="410.8" cy="402.94" r="4.1" fill="#0c0cf5" stroke="#05052a" stroke-width="1.6"/>
<circle cx="410.8" cy="398.32" r="4.1" fill="#0c0cf5" stroke="#05052a" stroke-width="1.6"/>
<circle cx="410.8" cy="394.47" r="4.1" fill="#0c0cf5" stroke="#05052a" stroke-width="1.6"/>
<circle cx="410.8" cy="382.92" r="4.1" fill="#0c0cf5" stroke="#05052a" stroke-width="1.6"/>
<circle cx="410.8" cy="372.14" r="4.1" fill="#0c0cf5" stroke="#05052a" stroke-width="1.6"/>
<circle cx="410.8" cy="369.06" r="4.1" fill="#0c0cf5" stroke="#05052a" stroke-width="1.6"/>
<circle cx="410.8" cy="365.21" r="4.1" fill="#0c0cf5" stroke="#05052a" stroke-width="1.6"/>
<circle cx="410.8" cy="348.27" r="4.1" fill="#0c0cf5" stroke="#05052a" stroke-width="1.6"/>
<circle cx="410.8" cy="343.65" r="4.1" fill="#0c0cf5" stroke="#05052a" stroke-width="1.6"/>
<circle cx="410.8" cy="339.8" r="4.1" fill="#0c0cf5" stroke="#05052a" stroke-width="1.6"/>
<circle cx="410.8" cy="335.18" r="4.1" fill="#0c0cf5" stroke="#05052a" stroke-width="1.6"/>
<circle cx="410.8" cy="327.48" r="4.1" fill="#0c0cf5" stroke="#05052a" stroke-width="1.6"/>
<circle cx="410.8" cy="309" r="4.1" fill="#0c0cf5" stroke="#05052a" stroke-width="1.6"/>
<circle cx="410.8" cy="303.61" r="4.1" fill="#0c0cf5" stroke="#05052a" stroke-width="1.6"/>
<rect x="400.9" y="357.62" width="20.2" height="4.4" fill="#000"/>
<circle cx="448.6" cy="449.14" r="4.1" fill="#d41020" stroke="#2a0505" stroke-width="1.6"/>
<circle cx="448.6" cy="446.83" r="4.1" fill="#d41020" stroke="#2a0505" stroke-width="1.6"/>
<circle cx="448.6" cy="443.75" r="4.1" fill="#d41020" stroke="#2a0505" stroke-width="1.6"/>
<circle cx="448.6" cy="439.9" r="4.1" fill="#d41020" stroke="#2a0505" stroke-width="1.6"/>
<circle cx="448.6" cy="436.05" r="4.1" fill="#d41020" stroke="#2a0505" stroke-width="1.6"/>
<circle cx="448.6" cy="432.2" r="4.1" fill="#d41020" stroke="#2a0505" stroke-width="1.6"/>
<circle cx="448.6" cy="427.58" r="4.1" fill="#d41020" stroke="#2a0505" stroke-width="1.6"/>
<circle cx="448.6" cy="424.5" r="4.1" fill="#d41020" stroke="#2a0505" stroke-width="1.6"/>
<circle cx="448.6" cy="420.65" r="4.1" fill="#d41020" stroke="#2a0505" stroke-width="1.6"/>
<circle cx="448.6" cy="416.8" r="4.1" fill="#d41020" stroke="#2a0505" stroke-width="1.6"/>
<circle cx="448.6" cy="412.95" r="4.1" fill="#d41020" stroke="#2a0505" stroke-width="1.6"/>
<circle cx="448.6" cy="389.85" r="4.1" fill="#d41020" stroke="#2a0505" stroke-width="1.6"/>
<circle cx="448.6" cy="373.68" r="4.1" fill="#d41020" stroke="#2a0505" stroke-width="1.6"/>
<circle cx="448.6" cy="312.85" r="4.1" fill="#d41020" stroke="#2a0505" stroke-width="1.6"/>
<rect x="438.5" y="427.69" width="20.9" height="4.4" fill="#000"/>
<circle cx="490.4" cy="448.37" r="4.1" fill="#ffffff" stroke="#111" stroke-width="1.6"/>
<circle cx="490.4" cy="444.52" r="4.1" fill="#ffffff" stroke="#111" stroke-width="1.6"/>
<circle cx="490.4" cy="439.9" r="4.1" fill="#ffffff" stroke="#111" stroke-width="1.6"/>
<circle cx="490.4" cy="436.82" r="4.1" fill="#ffffff" stroke="#111" stroke-width="1.6"/>
<rect x="480.6" y="440.78" width="19.9" height="4.4" fill="#000"/></g>
</svg>
</body></html>
